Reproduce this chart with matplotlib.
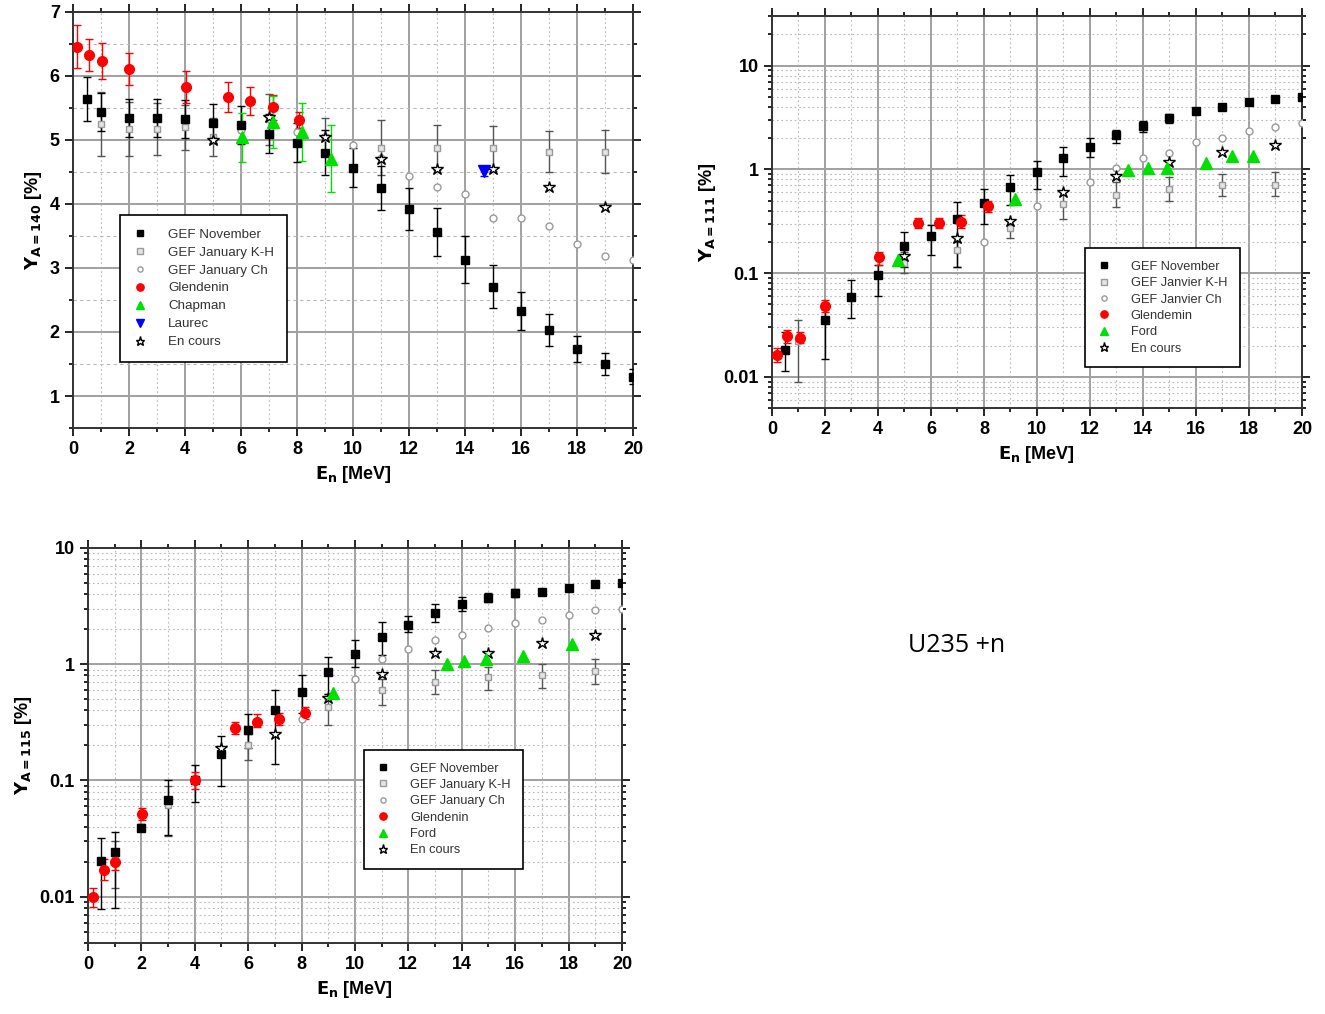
import matplotlib
matplotlib.use("Agg")
import matplotlib.pyplot as plt
import numpy as np
from matplotlib.ticker import MultipleLocator, LogLocator, FuncFormatter, NullFormatter

plt.rcParams['font.family'] = ['Liberation Sans', 'DejaVu Sans']

# ---------------- A = 140 (linear scale) ----------------
a140_nov_e = [0.5, 1, 2, 3, 4, 5, 6, 7, 8, 9, 10, 11, 12, 13, 14, 15, 16, 17, 18, 19, 20]
a140_nov_y = [5.64, 5.44, 5.34, 5.34, 5.33, 5.26, 5.23, 5.1, 4.96, 4.8, 4.57, 4.25, 3.92, 3.56,
              3.13, 2.71, 2.33, 2.03, 1.73, 1.5, 1.3]
a140_nov_err = [0.35, 0.3, 0.3, 0.3, 0.3, 0.3, 0.3, 0.3, 0.3, 0.35, 0.3, 0.35, 0.33, 0.37,
                0.37, 0.33, 0.3, 0.25, 0.2, 0.17, 0.12]
a140_kh_e = [1, 2, 3, 4, 5, 7, 9, 11, 13, 15, 17, 19]
a140_kh_y = [5.25, 5.17, 5.17, 5.2, 5.05, 5.32, 5.05, 4.88, 4.88, 4.87, 4.82, 4.82]
a140_kh_err = [0.5, 0.42, 0.4, 0.35, 0.3, 0.4, 0.3, 0.43, 0.35, 0.35, 0.32, 0.33]
a140_ch_e = [5, 6, 8, 9, 10, 11, 12, 13, 14, 15, 16, 17, 18, 19, 20]
a140_ch_y = [5.0, 5.15, 5.12, 5.05, 4.92, 4.72, 4.44, 4.27, 4.16, 3.78, 3.78, 3.65, 3.38, 3.18, 3.12]
a140_glen_e = [0.15, 0.57, 1.02, 2.0, 4.03, 5.53, 6.32, 7.15, 8.07]
a140_glen_y = [6.46, 6.32, 6.24, 6.11, 5.83, 5.67, 5.61, 5.51, 5.31]
a140_glen_err = [0.34, 0.25, 0.28, 0.25, 0.25, 0.24, 0.22, 0.2, 0.12]
a140_chap_e = [6.03, 7.15, 8.17, 9.2]
a140_chap_y = [5.04, 5.28, 5.12, 4.71]
a140_chap_err = [0.38, 0.4, 0.45, 0.53]
a140_laurec_e = [14.68]
a140_laurec_y = [4.52]
a140_laurec_err = [0.08]
a140_star_e = [5, 7, 9, 11, 13, 15, 17, 19]
a140_star_y = [5.0, 5.36, 5.04, 4.71, 4.55, 4.55, 4.27, 3.95]

# ---------------- A = 111 (log scale) ----------------
a111_nov_e = [0.5, 2, 3, 4, 5, 6, 7, 8, 9, 10, 11, 12, 13, 14, 15, 16, 17, 18, 19, 20]
a111_nov_y = [0.018, 0.035, 0.059, 0.096, 0.184, 0.226, 0.333, 0.475, 0.67, 0.94, 1.28, 1.64,
              2.14, 2.6, 3.1, 3.65, 4.0, 4.47, 4.8, 5.0]
a111_nov_lo = [0.0115, 0.015, 0.037, 0.06, 0.114, 0.15, 0.115, 0.3, 0.45, 0.65, 0.87, 1.3,
               1.8, 2.3, 2.8, 3.4, 3.9, 4.35, 4.7, 4.9]
a111_nov_hi = [0.027, 0.045, 0.085, 0.12, 0.25, 0.29, 0.48, 0.65, 0.88, 1.2, 1.63, 2.0,
               2.4, 2.9, 3.4, 3.9, 4.1, 4.6, 4.9, 5.1]
a111_kh_e = [1, 5, 7, 9, 11, 13, 15, 17, 19]
a111_kh_y = [0.022, 0.125, 0.166, 0.27, 0.46, 0.57, 0.65, 0.7, 0.7]
a111_kh_lo = [0.009, 0.1, 0.115, 0.22, 0.33, 0.43, 0.5, 0.55, 0.55]
a111_kh_hi = [0.035, 0.16, 0.2, 0.32, 0.6, 0.75, 0.85, 0.9, 0.95]
a111_ch_e = [8, 10, 12, 13, 14, 15, 16, 17, 18, 19, 20]
a111_ch_y = [0.2, 0.44, 0.75, 1.02, 1.28, 1.43, 1.83, 2.0, 2.34, 2.55, 2.8]
a111_glen_e = [0.18, 0.58, 1.05, 2.02, 4.03, 5.5, 6.3, 7.13, 8.15]
a111_glen_y = [0.0164, 0.0245, 0.0235, 0.048, 0.143, 0.305, 0.305, 0.31, 0.44]
a111_glen_lo = [0.014, 0.021, 0.021, 0.042, 0.12, 0.27, 0.27, 0.27, 0.39]
a111_glen_hi = [0.019, 0.028, 0.027, 0.055, 0.16, 0.34, 0.34, 0.36, 0.5]
a111_ford_e = [4.74, 9.16, 13.43, 14.2, 14.9, 16.38, 17.36, 18.15]
a111_ford_y = [0.133, 0.52, 0.98, 1.02, 1.02, 1.14, 1.34, 1.34]
a111_star_e = [5, 7, 9, 11, 13, 15, 17, 19]
a111_star_y = [0.147, 0.22, 0.32, 0.6, 0.87, 1.17, 1.46, 1.72]

# ---------------- A = 115 (log scale) ----------------
a115_nov_e = [0.5, 1, 2, 3, 4, 5, 6, 7, 8, 9, 10, 11, 12, 13, 14, 15, 16, 17, 18, 19, 20]
a115_nov_y = [0.0204, 0.0245, 0.039, 0.0686, 0.1, 0.17, 0.273, 0.4, 0.58, 0.86, 1.23, 1.7,
              2.19, 2.76, 3.28, 3.74, 4.1, 4.19, 4.56, 4.87, 5.03]
a115_nov_lo = [0.0078, 0.008, 0.037, 0.034, 0.065, 0.09, 0.19, 0.14, 0.38, 0.55, 0.95, 1.2,
               1.9, 2.3, 2.85, 3.4, 3.8, 4.1, 4.45, 4.8, 4.95]
a115_nov_hi = [0.032, 0.036, 0.042, 0.1, 0.137, 0.24, 0.37, 0.6, 0.8, 1.15, 1.6, 2.3,
               2.6, 3.3, 3.8, 4.1, 4.4, 4.3, 4.7, 4.95, 5.1]
a115_kh_e = [1, 3, 6, 9, 11, 13, 15, 17, 19]
a115_kh_y = [0.021, 0.061, 0.2, 0.43, 0.6, 0.7, 0.77, 0.8, 0.88]
a115_kh_lo = [0.012, 0.033, 0.15, 0.3, 0.45, 0.55, 0.6, 0.62, 0.67]
a115_kh_hi = [0.03, 0.09, 0.25, 0.55, 0.75, 0.9, 0.95, 1.0, 1.1]
a115_ch_e = [8, 10, 11, 12, 13, 14, 15, 16, 17, 18, 19, 20]
a115_ch_y = [0.34, 0.75, 1.12, 1.34, 1.63, 1.78, 2.03, 2.27, 2.39, 2.64, 2.91, 3.01]
a115_glen_e = [0.19, 0.61, 1.02, 2.04, 4.0, 5.52, 6.33, 7.14, 8.14]
a115_glen_y = [0.01, 0.017, 0.02, 0.052, 0.1, 0.285, 0.32, 0.336, 0.38]
a115_glen_lo = [0.0082, 0.014, 0.017, 0.046, 0.085, 0.25, 0.29, 0.3, 0.34]
a115_glen_hi = [0.012, 0.021, 0.023, 0.058, 0.118, 0.32, 0.37, 0.38, 0.43]
a115_ford_e = [9.16, 13.44, 14.1, 14.9, 16.3, 18.13]
a115_ford_y = [0.57, 1.01, 1.07, 1.1, 1.17, 1.5]
a115_star_e = [5, 7, 9, 11, 13, 15, 17, 19]
a115_star_y = [0.19, 0.25, 0.51, 0.83, 1.24, 1.24, 1.52, 1.8]

GRAY = "#9a9a9a"
GREEN = "#00e000"
NOV = dict(marker="s", color="black", ms=6, ecolor="black")
KH = dict(marker="s", mfc="#e4e4e4", mec=GRAY, ms=5, ecolor="#555555")
CH = dict(marker="o", mfc="white", mec=GRAY, ms=5)
GLEN = dict(marker="o", color="red", ms=7, ecolor="red")
FORD = dict(marker="^", color=GREEN, ms=8, ecolor=GREEN)
LAUREC = dict(marker="v", color="blue", ms=8, ecolor="blue")
STAR = dict(marker="*", mfc="white", mec="black", ms=9, mew=1)


def bounds(y, lo, hi):
    y = np.asarray(y)
    return [y - np.asarray(lo), np.asarray(hi) - y]


def eb(ax, x, y, style, yerr=None):
    ax.errorbar(x, y, yerr=yerr, ls="none", capsize=3, elinewidth=1, capthick=1,
                zorder=3, **style)


def legend(ax, labels, styles, anchor, fs, spacing):
    handles = [ax.plot([], [], ls="none", **{k: v for k, v in s.items() if k != "ecolor"})[0]
               for s in styles]
    leg = ax.legend(handles, labels, loc="upper left", bbox_to_anchor=anchor, fontsize=fs,
                    frameon=True, fancybox=False, edgecolor="black", framealpha=1,
                    borderpad=1.0, labelspacing=spacing, handlelength=1.0, handletextpad=1.6,
                    borderaxespad=0, markerscale=0.75)
    leg.get_frame().set_linewidth(1.2)
    for t in leg.get_texts():
        t.set_color("#333333")


def style_axes(ax, log):
    ax.set_xlim(0, 20)
    ax.xaxis.set_major_locator(MultipleLocator(2))
    ax.xaxis.set_minor_locator(MultipleLocator(1))
    if log:
        ax.set_yscale("log")
        ax.yaxis.set_major_locator(LogLocator(base=10, numticks=10))
        ax.yaxis.set_minor_locator(LogLocator(base=10, subs=np.arange(2, 10), numticks=20))
        ax.yaxis.set_major_formatter(FuncFormatter(lambda v, p: f"{v:g}"))
        ax.yaxis.set_minor_formatter(NullFormatter())
        ax.grid(which="minor", axis="y", color="#b8b8b8", ls=(0, (1.5, 2.5)), lw=0.8)
    else:
        ax.grid(which="minor", axis="y", color="#b8b8b8", ls=(0, (3, 3)), lw=0.8)
    ax.grid(which="major", color="#a0a0a0", ls="-", lw=1.4)
    ax.grid(which="minor", axis="x", color="#b8b8b8", ls=(0, (1.5, 2.5)), lw=0.8)
    ax.set_axisbelow(True)
    ax.tick_params(which="both", direction="out", top=True, right=True, width=1.2)
    ax.tick_params(which="major", length=6, labelsize=13)
    ax.tick_params(which="minor", length=3)
    for lab in ax.get_xticklabels() + ax.get_yticklabels():
        lab.set_fontweight("bold")
    for sp in ax.spines.values():
        sp.set_linewidth(1.4)
        sp.set_color("#333333")
    ax.set_xlabel(r"$\mathbf{E_n}$ [MeV]", fontsize=13, fontweight="bold")


fig = plt.figure(figsize=(13.25, 10.14), dpi=100)

# ---- panel A=140
ax1 = fig.add_axes([0.0551, 0.5779, 0.4226, 0.4103])
eb(ax1, a140_kh_e, a140_kh_y, KH, a140_kh_err)
eb(ax1, a140_ch_e, a140_ch_y, CH)
eb(ax1, a140_nov_e, a140_nov_y, NOV, a140_nov_err)
eb(ax1, a140_star_e, a140_star_y, STAR)
eb(ax1, a140_glen_e, a140_glen_y, GLEN, a140_glen_err)
eb(ax1, a140_chap_e, a140_chap_y, FORD, a140_chap_err)
eb(ax1, a140_laurec_e, a140_laurec_y, LAUREC, a140_laurec_err)
ax1.set_ylim(0.5, 7)
ax1.yaxis.set_major_locator(MultipleLocator(1))
ax1.yaxis.set_minor_locator(MultipleLocator(0.5))
style_axes(ax1, log=False)
ax1.set_ylabel(r"$\mathbf{Y_{A=140}}$ [%]", fontsize=13, fontweight="bold")
legend(ax1, ["GEF November", "GEF January K-H", "GEF January Ch", "Glendenin", "Chapman",
             "Laurec", "En cours"],
       [NOV, KH, CH, GLEN, FORD, LAUREC, STAR], (0.084, 0.512), 9.6, 0.42)

# ---- panel A=111
ax2 = fig.add_axes([0.5826, 0.5976, 0.4, 0.3866])
eb(ax2, a111_kh_e, a111_kh_y, KH, bounds(a111_kh_y, a111_kh_lo, a111_kh_hi))
eb(ax2, a111_ch_e, a111_ch_y, CH)
eb(ax2, a111_nov_e, a111_nov_y, NOV, bounds(a111_nov_y, a111_nov_lo, a111_nov_hi))
eb(ax2, a111_star_e, a111_star_y, STAR)
eb(ax2, a111_glen_e, a111_glen_y, GLEN, bounds(a111_glen_y, a111_glen_lo, a111_glen_hi))
eb(ax2, a111_ford_e, a111_ford_y, FORD)
style_axes(ax2, log=True)
ax2.set_ylim(0.005, 30)
ax2.set_ylabel(r"$\mathbf{Y_{A=111}}$ [%]", fontsize=13, fontweight="bold")
legend(ax2, ["GEF November", "GEF Janvier K-H", "GEF Janvier Ch", "Glendemin", "Ford",
             "En cours"],
       [NOV, KH, CH, GLEN, FORD, STAR], (0.59, 0.408), 9.2, 0.34)

# ---- panel A=115
ax3 = fig.add_axes([0.0664, 0.07, 0.403, 0.3896])
eb(ax3, a115_kh_e, a115_kh_y, KH, bounds(a115_kh_y, a115_kh_lo, a115_kh_hi))
eb(ax3, a115_ch_e, a115_ch_y, CH)
eb(ax3, a115_nov_e, a115_nov_y, NOV, bounds(a115_nov_y, a115_nov_lo, a115_nov_hi))
eb(ax3, a115_star_e, a115_star_y, STAR)
eb(ax3, a115_glen_e, a115_glen_y, GLEN, bounds(a115_glen_y, a115_glen_lo, a115_glen_hi))
eb(ax3, a115_ford_e, a115_ford_y, FORD)
style_axes(ax3, log=True)
ax3.set_ylim(0.004, 10)
ax3.set_ylabel(r"$\mathbf{Y_{A=115}}$ [%]", fontsize=13, fontweight="bold")
legend(ax3, ["GEF November", "GEF January K-H", "GEF January Ch", "Glendenin", "Ford",
             "En cours"],
       [NOV, KH, CH, GLEN, FORD, STAR], (0.517, 0.489), 9.2, 0.34)

fig.text(957 / 1325, 1 - 645 / 1014, "U235 +n", fontsize=18, ha="center", va="center",
         family=["Open Sans", "DejaVu Sans"])

fig.savefig("out.png", dpi=100)
